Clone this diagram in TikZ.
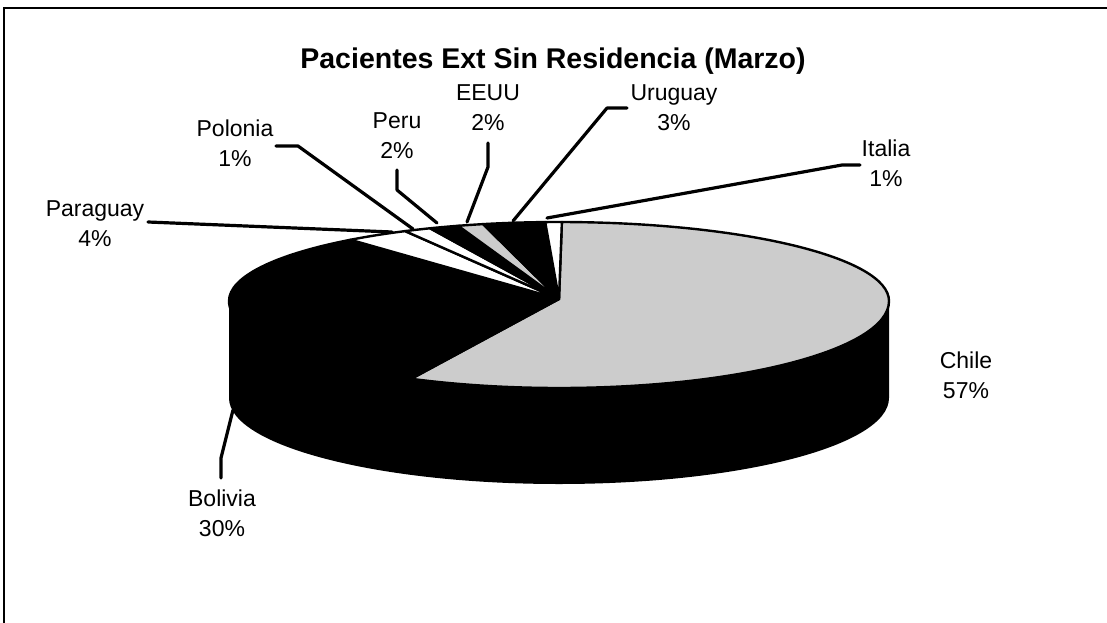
\documentclass[tikz,border=0pt]{standalone}
\usepackage{fontspec}
\setmainfont{Liberation Sans}
\begin{document}
\begin{tikzpicture}[x=1pt,y=-1pt,
  lbl/.style={font=\fontsize{23}{30}\selectfont, align=center, inner sep=0pt},
  ttl/.style={font=\fontsize{28.5}{32}\selectfont\bfseries, inner sep=0pt, anchor=base},
  leader/.style={line width=3.2pt, line join=round, line cap=round},
  slice/.style={draw=black, line width=2.4pt, line join=round},
  lightgray/.style={fill=black!20},
  dark/.style={fill=black},
  blank/.style={fill=white}]
\useasboundingbox (0,0) rectangle (1107,623);
\fill[white] (0,0) rectangle (1107,623);
% frame
\draw[line width=1.8pt] (4,623) -- (4,8) -- (1107,8);

% title
\node[ttl] (title) at (553,69) {Pacientes Ext Sin Residencia (Marzo)};

% side wall
\fill[black] (229,301) -- (229,398)
  arc[start angle=180,end angle=0,x radius=330,y radius=86]
  -- (889,301)
  arc[start angle=0,end angle=180,x radius=330,y radius=87] -- cycle;

% slice boundary points
\coordinate (A) at (559,299);
\coordinate (b1) at ({559+330*cos(270.5)},{301+79*sin(270.5)});
\coordinate (b2) at ({559+330*cos(267.6)},{301+79*sin(267.6)});
\coordinate (b3) at ({559+330*cos(256.7)},{301+79*sin(256.7)});
\coordinate (b4) at ({559+330*cos(252.2)},{301+79*sin(252.2)});
\coordinate (b5) at ({559+330*cos(247)},{301+79*sin(247)});
\coordinate (b6) at ({559+330*cos(242.2)},{301+79*sin(242.2)});
\coordinate (b7) at ({559+330*cos(230.8)},{301+79*sin(230.8)});
\coordinate (f1) at ({559+330*cos(116.6)},{301+87*sin(116.6)});

% slices (top face)
\path[slice,lightgray] (A) -- (b1)
  arc[start angle=270.5,end angle=360,x radius=330,y radius=79]
  arc[start angle=0,end angle=116.6,x radius=330,y radius=87] -- cycle;
\path[slice,dark] (A) -- (f1)
  arc[start angle=116.6,end angle=180,x radius=330,y radius=87]
  arc[start angle=180,end angle=230.8,x radius=330,y radius=79] -- cycle;
\path[slice,blank] (A) -- (b7)
  arc[start angle=230.8,end angle=242.2,x radius=330,y radius=79] -- cycle;
\path[slice,blank] (A) -- (b6)
  arc[start angle=242.2,end angle=247,x radius=330,y radius=79] -- cycle;
\path[slice,dark] (A) -- (b5)
  arc[start angle=247,end angle=252.2,x radius=330,y radius=79] -- cycle;
\path[slice,lightgray] (A) -- (b4)
  arc[start angle=252.2,end angle=256.7,x radius=330,y radius=79] -- cycle;
\path[slice,dark] (A) -- (b3)
  arc[start angle=256.7,end angle=267.6,x radius=330,y radius=79] -- cycle;
\path[slice,blank] (A) -- (b2)
  arc[start angle=267.6,end angle=270.5,x radius=330,y radius=79] -- cycle;

% labels
\node[lbl] (chile) at (966,375.6) {Chile\\57\%};
\node[lbl] (bolivia) at (222,513.6) {Bolivia\\30\%};
\node[lbl] (paraguay) at (95,223.6) {Paraguay\\4\%};
\node[lbl] (polonia) at (235,143.6) {Polonia\\1\%};
\node[lbl] (peru) at (397,135.6) {Peru\\2\%};
\node[lbl] (eeuu) at (488,107.6) {EEUU\\2\%};
\node[lbl] (uruguay) at (674,107.6) {Uruguay\\3\%};
\node[lbl] (italia) at (886,163.6) {Italia\\1\%};

% leader end points
\coordinate (pyS) at (148,222);
\coordinate (pyE) at (392,232);
\coordinate (poS) at (276,146);
\coordinate (poK) at (298,146);
\coordinate (poE) at (413,229);
\coordinate (peS) at (397,170);
\coordinate (peK) at (397,190);
\coordinate (peE) at (437,223);
\coordinate (euS) at (488,143);
\coordinate (euK) at (488,167);
\coordinate (euE) at (467,222);
\coordinate (urS) at (627,108);
\coordinate (urK) at (607,108);
\coordinate (urE) at (513,221);
\coordinate (itS) at (860,165);
\coordinate (itK) at (842,165);
\coordinate (itE) at (547,218);
\coordinate (boS) at (221,478);
\coordinate (boK) at (221,458);
\coordinate (boE) at (233,410);

\draw[leader] (pyS) -- (pyE);
\draw[leader] (poS) -- (poK) -- (poE);
\draw[leader] (peS) -- (peK) -- (peE);
\draw[leader] (euS) -- (euK) -- (euE);
\draw[leader] (urS) -- (urK) -- (urE);
\draw[leader] (itS) -- (itK) -- (itE);
\draw[leader] (boS) -- (boK) -- (boE);
\end{tikzpicture}
\end{document}
